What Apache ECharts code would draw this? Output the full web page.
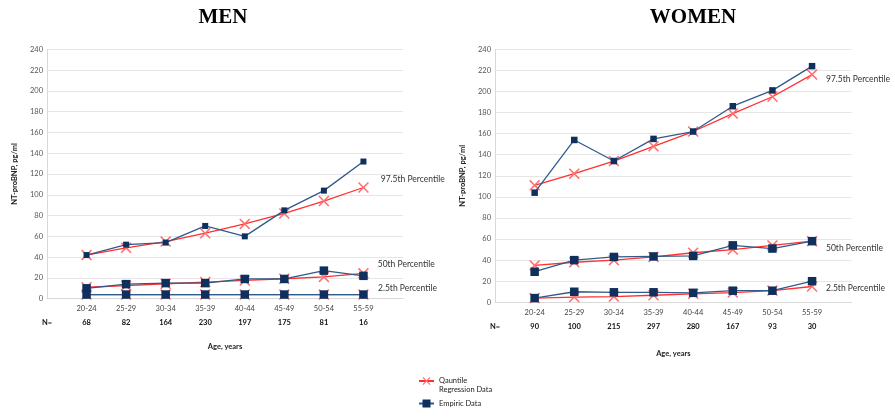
<!DOCTYPE html>
<html><head><meta charset="utf-8">
<script src="https://cdn.jsdelivr.net/npm/echarts@6/dist/echarts.min.js"></script>
<style>html,body{margin:0;padding:0;background:#fff}#c{width:895px;height:418px}</style>
</head><body><div id="c"></div>
<script>
const ageGroups = ['20-24','25-29','30-34','35-39','40-44','45-49','50-54','55-59'];
const menN = [68,82,164,230,197,175,81,16];
const womenN = [90,100,215,297,280,167,93,30];
const menEmp975 = [42,52,54,70,60,85,104,132];
const menReg975 = [42,49,55,63,72,82,94,107];
const menEmp50 = [10,14,15,15,19,19,27,22];
const menReg50 = [11,12.5,14.4,16,17.6,19.2,21,24.4];
const menEmp25 = [4,4,4,4,4,4,4,4];
const menReg25 = [4,4,4,4,4,4,4,4];
const womenEmp975 = [104,154,134,155,162,186,201,224];
const womenReg975 = [111,122,134,148,162,179,195,216];
const womenEmp50 = [29,40,43,43.5,44,54,51,58];
const womenReg50 = [35,38,40,43,47,50,54,58];
const womenEmp25 = [4,10,9.5,9.5,9,11,11,20];
const womenReg25 = [4,5,5.4,6.7,8,9.2,11.1,15];
const percentileLabels = ['97.5th Percentile','50th Percentile','2.5th Percentile'];
const regName = 'Qauntile\nRegression Data';
const empName = 'Empiric Data';

const FONT = 'Lato';
const xShape = 'path://M0,1L1,0L5,4L9,0L10,1L6,5L10,9L9,10L5,6L1,10L0,9L4,5Z';
const toPts = arr => arr.map((v,i)=>[i+1,v]);

function yAxis(gi){
  return {type:'value', gridIndex:gi, min:0, max:240, interval:20,
    name:'NT-proBNP, pg/ml', nameLocation:'middle', nameGap:28,
    nameTextStyle:{fontFamily:FONT, fontSize:7.5, fontWeight:'bold', color:'#222'},
    axisLine:{show:true, lineStyle:{color:'#d9d9d9'}}, axisTick:{show:false},
    axisLabel:{fontFamily:FONT, fontSize:7.5, color:'#555', margin:4},
    splitLine:{lineStyle:{color:'#e6e6e6'}}};
}
function xCat(gi, gap){
  return {type:'value', gridIndex:gi, min:0, max:9, interval:1,
    name:'Age, years', nameLocation:'middle', nameGap:gap,
    nameTextStyle:{fontFamily:FONT, fontSize:7.5, fontWeight:'bold', color:'#222'},
    axisLine:{show:true, onZero:false, lineStyle:{color:'#d9d9d9'}}, axisTick:{show:false},
    splitLine:{show:false},
    axisLabel:{fontFamily:FONT, fontSize:7.5, color:'#444', margin:6, showMinLabel:true, showMaxLabel:true,
      formatter:v=> (v>=1 && v<=8) ? ageGroups[v-1] : ''}};
}
function xN(gi, ns){
  return {type:'value', gridIndex:gi, min:0, max:9, interval:1, position:'bottom',
    axisLine:{show:false}, axisTick:{show:false}, splitLine:{show:false},
    axisLabel:{fontFamily:FONT, fontSize:7.5, fontWeight:'bold', color:'#111', margin:20, showMinLabel:true, showMaxLabel:true,
      formatter:v=> v===0 ? 'N=' : ((v>=1 && v<=8) ? String(ns[v-1]) : '')}};
}
function reg(xi, yi, data){
  return {name:regName, type:'line', xAxisIndex:xi, yAxisIndex:yi, data:toPts(data),
    symbol:xShape, symbolSize:11, lineStyle:{color:'#ff3030', width:1.3},
    itemStyle:{color:'#ff7070'}, z:2, animation:false};
}
function emp(xi, yi, data, size){
  return {name:empName, type:'line', xAxisIndex:xi, yAxisIndex:yi, data:toPts(data),
    symbol:'rect', symbolSize:size, lineStyle:{color:'#2f5b8c', width:1.3},
    itemStyle:{color:'#0f2f5c'}, z:3, animation:false};
}
const chart = echarts.init(document.getElementById('c'));
const lbl = (x,y,t)=>({type:'text', left:x, top:y-6, style:{text:t, fontFamily:FONT, fontSize:8.5, fill:'#333'}});
chart.setOption({
  backgroundColor:'#fff',
  title:[
    {text:'MEN', left:218, top:2, textAlign:'center', textStyle:{fontFamily:'Liberation Serif', fontSize:21, fontWeight:'bold', color:'#000'}},
    {text:'WOMEN', left:688, top:2, textAlign:'center', textStyle:{fontFamily:'Liberation Serif', fontSize:21, fontWeight:'bold', color:'#000'}}
  ],
  legend:{orient:'vertical', left:418, top:367.5, padding:0, itemWidth:15, itemHeight:10, itemGap:4.5,
    data:[regName, empName],
    formatter:n => n === regName ? '\n' + n : n,
    textStyle:{fontFamily:FONT, fontSize:7.5, color:'#222', lineHeight:9}},
  grid:[
    {left:47, top:49.3, width:356, height:249.4},
    {left:495, top:49.3, width:356.7, height:253}
  ],
  xAxis:[xCat(0,44), xN(0,menN), xCat(1,47), xN(1,womenN)],
  yAxis:[yAxis(0), yAxis(1)],
  series:[
    reg(0,0,menReg975), reg(0,0,menReg50), reg(0,0,menReg25),
    emp(0,0,menEmp975,6), emp(0,0,menEmp50,8.5), emp(0,0,menEmp25,8.5),
    reg(2,1,womenReg975), reg(2,1,womenReg50), reg(2,1,womenReg25),
    emp(2,1,womenEmp975,6.5), emp(2,1,womenEmp50,8.5), emp(2,1,womenEmp25,8.5)
  ],
  graphic:[
    lbl(380.7,181,percentileLabels[0]), lbl(377.7,265.7,percentileLabels[1]), lbl(378,289.7,percentileLabels[2]),
    lbl(826,81,percentileLabels[0]), lbl(826,249.3,percentileLabels[1]), lbl(826,290,percentileLabels[2])
  ]
});
</script></body></html>
